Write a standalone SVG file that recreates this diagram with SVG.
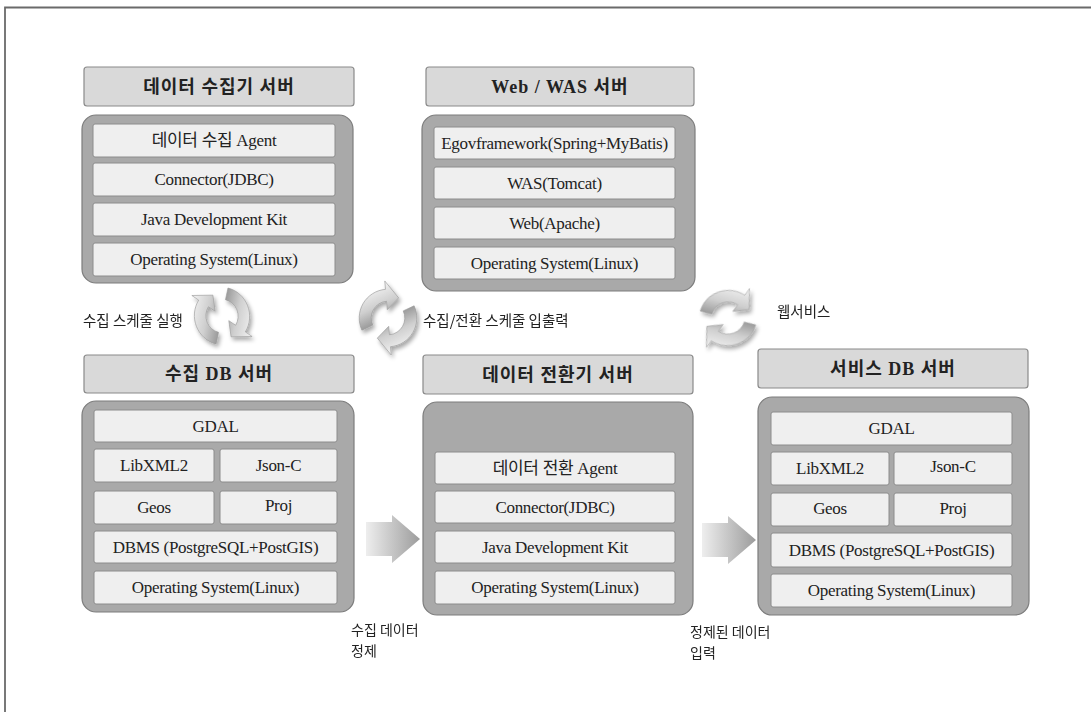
<svg xmlns="http://www.w3.org/2000/svg" width="1091" height="712" viewBox="0 0 1091 712">
<style>
.hdr{fill:#d9d9d9;stroke:#8a8a8a;stroke-width:1.2}
.box{fill:#a9a9a9;stroke:#7d7d7d;stroke-width:1.2}
.row{fill:#efefef;stroke:#8c8c8c;stroke-width:1}
.ht{font-family:"Liberation Serif","Noto Sans CJK KR",serif;font-weight:bold;font-size:18px;fill:#222;text-anchor:middle;letter-spacing:1px}
.rt{font-family:"Liberation Serif","Noto Sans CJK KR",serif;font-size:17px;fill:#222;text-anchor:middle;letter-spacing:-0.3px}
.lb{font-family:"Noto Sans CJK KR","Noto Sans",sans-serif;font-size:14.5px;fill:#222}
.lb2{font-family:"Noto Sans CJK KR","Noto Sans",sans-serif;font-size:14px;fill:#222}
</style>
<defs>
<linearGradient id="cyc" x1="0" y1="0" x2="1" y2="1">
<stop offset="0" stop-color="#f7f7f7"/>
<stop offset="0.5" stop-color="#cfcfcf"/>
<stop offset="1" stop-color="#858585"/>
</linearGradient>
<linearGradient id="blk" x1="0" y1="0" x2="1" y2="0">
<stop offset="0" stop-color="#eeeeee"/>
<stop offset="1" stop-color="#9c9c9c"/>
</linearGradient>
<filter id="sh" x="-30%" y="-30%" width="160%" height="160%">
<feGaussianBlur in="SourceAlpha" stdDeviation="2"/>
<feOffset dx="2" dy="3" result="b"/>
<feComponentTransfer><feFuncA type="linear" slope="0.35"/></feComponentTransfer>
<feMerge><feMergeNode/><feMergeNode in="SourceGraphic"/></feMerge>
</filter>
<path id="carr" d="M -10.14 21.75 A 24 24 0 0 1 -16.97 -16.97 L -21.92 -21.92 L -3.95 -18.58 L -4.95 -4.95 L -9.90 -9.90 A 14 14 0 0 0 -5.92 12.69 Z" fill="url(#cyc)" stroke="#9a9a9a" stroke-width="0.5"/>
<g id="cycle">
<use href="#carr"/>
<use href="#carr" transform="rotate(180)"/>
</g>
<path id="barr" d="M 0 7 L 26 7 L 26 0 L 54 24 L 26 48 L 26 41 L 0 41 Z" fill="url(#blk)"/>
</defs>

<rect x="0" y="0" width="1091" height="712" fill="#ffffff"/>
<g id="frame" fill="none" stroke="#6a6a6a" stroke-width="1.8">
<path d="M 5 712 L 5 7.5 L 1091 7.5"/>
</g>

<g id="collector-server">
<rect class="hdr" x="84" y="67" width="270" height="39" rx="3"/>
<text class="ht" x="219" y="93">데이터 수집기 서버</text>
<rect class="box" x="82" y="115" width="271" height="168" rx="14"/>
<rect class="row" x="93" y="124" width="242" height="33" rx="2"/>
<text class="rt" x="214" y="146">데이터 수집 Agent</text>
<rect class="row" x="93" y="163" width="242" height="33" rx="2"/>
<text class="rt" x="214" y="185">Connector(JDBC)</text>
<rect class="row" x="93" y="203" width="242" height="33" rx="2"/>
<text class="rt" x="214" y="225">Java Development Kit</text>
<rect class="row" x="93" y="243" width="242" height="33" rx="2"/>
<text class="rt" x="214" y="265">Operating System(Linux)</text>
</g>

<g id="web-was-server">
<rect class="hdr" x="426" y="67" width="268" height="39" rx="3"/>
<text class="ht" x="560" y="93">Web / WAS 서버</text>
<rect class="box" x="422" y="115" width="273" height="176" rx="14"/>
<rect class="row" x="434" y="127" width="241" height="32" rx="2"/>
<text class="rt" x="554.5" y="149">Egovframework(Spring+MyBatis)</text>
<rect class="row" x="434" y="167" width="241" height="32" rx="2"/>
<text class="rt" x="554.5" y="189">WAS(Tomcat)</text>
<rect class="row" x="434" y="207" width="241" height="32" rx="2"/>
<text class="rt" x="554.5" y="229">Web(Apache)</text>
<rect class="row" x="434" y="247" width="241" height="32" rx="2"/>
<text class="rt" x="554.5" y="269">Operating System(Linux)</text>
</g>

<g id="collect-db-server">
<rect class="hdr" x="84" y="355" width="270" height="38" rx="3"/>
<text class="ht" x="219" y="380">수집 DB 서버</text>
<rect class="box" x="82" y="401" width="272" height="211" rx="14"/>
<rect class="row" x="94" y="410" width="243" height="32" rx="2"/>
<text class="rt" x="215.5" y="432">GDAL</text>
<rect class="row" x="94" y="449" width="120" height="33" rx="2"/>
<text class="rt" x="154" y="471">LibXML2</text>
<rect class="row" x="220" y="449" width="117" height="33" rx="2"/>
<text class="rt" x="278.5" y="471">Json-C</text>
<rect class="row" x="94" y="491" width="120" height="33" rx="2"/>
<text class="rt" x="154" y="513">Geos</text>
<rect class="row" x="220" y="491" width="117" height="33" rx="2"/>
<text class="rt" x="278.5" y="511">Proj</text>
<rect class="row" x="94" y="531" width="243" height="32" rx="2"/>
<text class="rt" x="215.5" y="553">DBMS (PostgreSQL+PostGIS)</text>
<rect class="row" x="94" y="571" width="243" height="33" rx="2"/>
<text class="rt" x="215.5" y="593">Operating System(Linux)</text>
</g>

<g id="converter-server">
<rect class="hdr" x="423" y="355" width="270" height="39" rx="3"/>
<text class="ht" x="558" y="381">데이터 전환기 서버</text>
<rect class="box" x="423" y="402" width="270" height="213" rx="14"/>
<rect class="row" x="435" y="452" width="240" height="32" rx="2"/>
<text class="rt" x="555" y="474">데이터 전환 Agent</text>
<rect class="row" x="435" y="491" width="240" height="32" rx="2"/>
<text class="rt" x="555" y="513">Connector(JDBC)</text>
<rect class="row" x="435" y="531" width="240" height="32" rx="2"/>
<text class="rt" x="555" y="553">Java Development Kit</text>
<rect class="row" x="435" y="571" width="240" height="33" rx="2"/>
<text class="rt" x="555" y="593">Operating System(Linux)</text>
</g>

<g id="service-db-server">
<rect class="hdr" x="758" y="349" width="270" height="39" rx="3"/>
<text class="ht" x="893" y="375">서비스 DB 서버</text>
<rect class="box" x="758" y="397" width="271" height="218" rx="14"/>
<rect class="row" x="771" y="412" width="241" height="33" rx="2"/>
<text class="rt" x="891.5" y="434">GDAL</text>
<rect class="row" x="771" y="452" width="118" height="33" rx="2"/>
<text class="rt" x="830" y="474">LibXML2</text>
<rect class="row" x="894" y="452" width="118" height="33" rx="2"/>
<text class="rt" x="953" y="472">Json-C</text>
<rect class="row" x="771" y="493" width="118" height="33" rx="2"/>
<text class="rt" x="830" y="514">Geos</text>
<rect class="row" x="894" y="493" width="118" height="33" rx="2"/>
<text class="rt" x="953" y="514">Proj</text>
<rect class="row" x="771" y="533" width="241" height="34" rx="2"/>
<text class="rt" x="891.5" y="556">DBMS (PostgreSQL+PostGIS)</text>
<rect class="row" x="771" y="574" width="241" height="33" rx="2"/>
<text class="rt" x="891.5" y="596">Operating System(Linux)</text>
</g>

<g id="connectors">
<g filter="url(#sh)">
<use href="#cycle" transform="translate(222 316) rotate(-12) scale(1.15 1.2)"/>
<use href="#cycle" transform="translate(388 318) rotate(40) scale(1.2)"/>
<use href="#cycle" transform="translate(728 318) rotate(80) scale(1.15 1.2)"/>
</g>
<use href="#barr" transform="translate(366 515)"/>
<use href="#barr" transform="translate(702 516)"/>
</g>

<g id="labels">
<text class="lb" x="83" y="326">수집 스케줄 실행</text>
<text class="lb" x="423" y="326">수집/전환 스케줄 입출력</text>
<text class="lb" x="777" y="317">웹서비스</text>
<text class="lb2" x="351" y="635">수집 데이터</text>
<text class="lb2" x="351" y="656">정제</text>
<text class="lb2" x="690" y="637">정제된 데이터</text>
<text class="lb2" x="690" y="658">입력</text>
</g>
</svg>
